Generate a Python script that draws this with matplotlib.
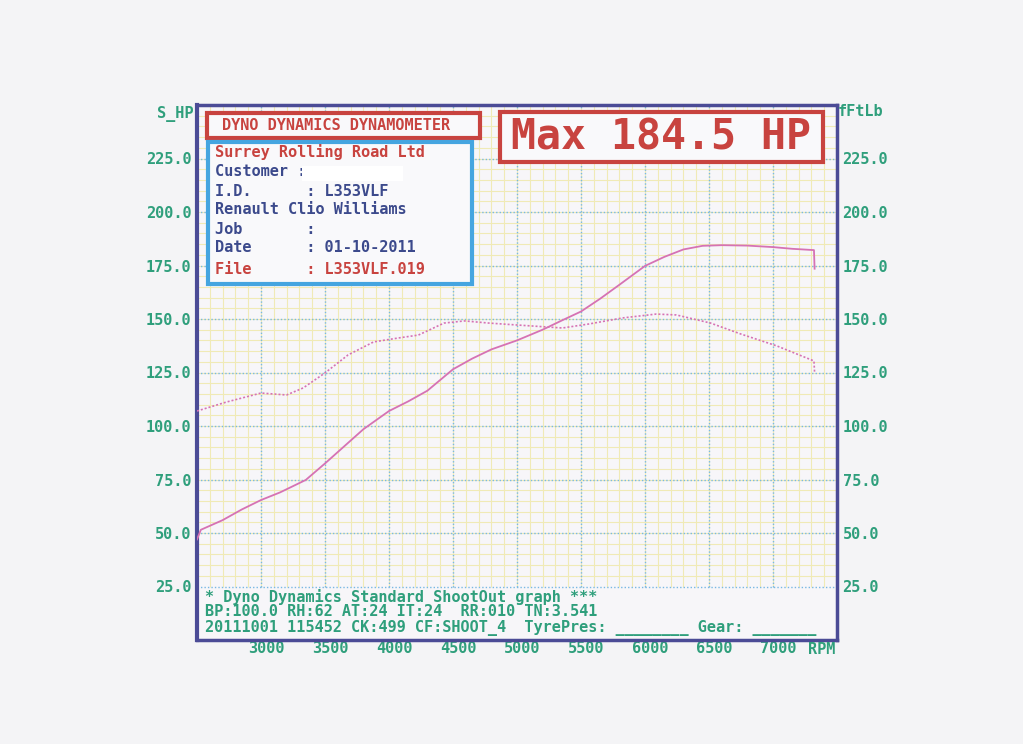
import matplotlib
matplotlib.use("Agg")
import matplotlib.pyplot as plt
from matplotlib.patches import Rectangle
from matplotlib.transforms import ScaledTranslation

# dyno run data
rpm_power = [2500, 2530, 2700, 2850, 3000, 3150, 3350, 3500, 3650, 3800, 4000, 4150,
             4300, 4500, 4650, 4800, 5000, 5200, 5350, 5500, 5650, 5800, 6000, 6150,
             6300, 6450, 6600, 6800, 7000, 7150, 7320, 7325]
hp = [47, 51.5, 56, 61, 65.4, 69, 74.8, 82.5, 90.5, 98.5, 107, 111.5,
      116.5, 126.5, 131.5, 135.8, 140, 145, 149.3, 153.5, 159.5, 166, 174.8, 179,
      182.5, 184.2, 184.5, 184.3, 183.6, 182.8, 182.2, 173.5]

rpm_torque = [2500, 2730, 3000, 3200, 3330, 3500, 3680, 3880, 4070, 4230, 4430, 4590,
              4780, 5000, 5355, 5565, 5825, 6087, 6245, 6512, 6748, 7031, 7320, 7325]
torque = [107, 111.2, 115.4, 114.5, 117.8, 124.8, 133.2, 139.3, 141.1, 142.5, 148.1, 149.1,
          148.1, 147.2, 145.8, 147.7, 150.5, 152.3, 151.9, 148.1, 143, 137.4, 130.4, 124.8]

x_ticks = [3000, 3500, 4000, 4500, 5000, 5500, 6000, 6500, 7000]
y_ticks = [25, 50, 75, 100, 125, 150, 175, 200, 225]

info_lines = [
    ("Surrey Rolling Road Ltd", "red"),
    ("Customer :", "navy"),
    ("I.D.      : L353VLF", "navy"),
    ("Renault Clio Williams", "navy"),
    ("Job       :", "navy"),
    ("Date      : 01-10-2011", "navy"),
    ("File      : L353VLF.019", "red"),
]
footer_lines = [
    "* Dyno Dynamics Standard ShootOut graph ***",
    "BP:100.0 RH:62 AT:24 IT:24  RR:010 TN:3.541",
    "20111001 115452 CK:499 CF:SHOOT_4  TyrePres: ________ Gear: _______",
]

RED = "#c8433f"
NAVY = "#3c4a8c"
GREEN = "#2f9f7c"
CURVE = "#d672b4"
FRAME = "#4b4b96"
BG = "#f4f4f6"

W, H = 1023, 744
plt.rcParams["font.family"] = "DejaVu Sans Mono"

fig = plt.figure(figsize=(W / 100, H / 100), dpi=100, facecolor=BG)
ax = fig.add_axes([197 / W, 1 - 640 / H, 640 / W, 535 / H])
ax.set_facecolor("#f7f6f9")
ax.set_xlim(2500, 7500)
ax.set_ylim(0, 250)


def fx(x):
    return x / W


def fy(y):
    return 1 - y / H


# grid (minor yellow, major blue dotted), only above the footer strip
for r in range(2600, 7500, 100):
    ax.vlines(r, 25, 250, color="#f0eab6", lw=0.8, zorder=1)
for v in range(30, 250, 5):
    ax.hlines(v, 2500, 7500, color="#f0eab6", lw=0.8, zorder=1)
for r in x_ticks:
    ax.vlines(r, 25, 250, color="#78b8e4", lw=1.0, ls=(0, (1, 1.5)), zorder=2)
for v in y_ticks:
    ax.hlines(v, 2500, 7500, color="#78b8e4", lw=1.0, ls=(0, (1, 1.5)), zorder=2)

ax.plot(rpm_power, hp, color=CURVE, lw=1.3, zorder=4)
ax.plot(rpm_torque, torque, color=CURVE, lw=1.2, ls=(0, (1.2, 1.2)), zorder=4)

ax.set_xticks(x_ticks)
ax.set_xticklabels([str(t) for t in x_ticks])
ax.set_yticks(y_ticks)
ax.set_yticklabels([f"{t:.1f}" for t in y_ticks])
ax.tick_params(length=0, colors=GREEN, labelsize=11,
               labelleft=True, labelright=True)
ax.tick_params(axis="x", pad=1)
ax.tick_params(axis="y", pad=4)
for lbl in ax.get_xticklabels() + ax.get_yticklabels():
    lbl.set_fontweight("bold")
for lbl in ax.get_xticklabels():
    lbl.set_transform(lbl.get_transform() + ScaledTranslation(0.05, 0, fig.dpi_scale_trans))

for s in ax.spines.values():
    s.set_color(FRAME)
    s.set_linewidth(2.5)
ax.spines["left"].set_linewidth(3)

# axis captions
fig.text(fx(193), fy(114), "S_HP", color=GREEN, fontsize=11, fontweight="bold",
         ha="right", va="center")
fig.text(fx(838), fy(112), "fFtLb", color=GREEN, fontsize=11, fontweight="bold",
         ha="left", va="center")
fig.text(fx(822), fy(649), "RPM", color=GREEN, fontsize=11, fontweight="bold",
         ha="center", va="center")

# header boxes
fig.add_artist(Rectangle((fx(207), fy(138)), (480 - 207) / W, 25 / H,
                         transform=fig.transFigure, fc="#f9f9fb", ec=RED, lw=3, zorder=5))
fig.text(fx(336), fy(126), "DYNO DYNAMICS DYNAMOMETER", color=RED, fontsize=11,
         fontweight="bold", ha="center", va="center", zorder=6)

fig.add_artist(Rectangle((fx(208), fy(284)), (472 - 208) / W, (284 - 142) / H,
                         transform=fig.transFigure, fc="#f9f9fb", ec="#45a5e0", lw=3, zorder=5))
rows_y = [152, 172, 191, 210, 229, 248, 269]
for (txt, c), y in zip(info_lines, rows_y):
    col = RED if c == "red" else NAVY
    fig.text(fx(215), fy(y), txt, color=col, fontsize=11,
             fontweight="bold", ha="left", va="center", zorder=6)
fig.add_artist(Rectangle((fx(302), fy(181)), 101 / W, 15 / H,
                         transform=fig.transFigure, fc="white", ec="none", zorder=7))

fig.add_artist(Rectangle((fx(500), fy(162)), 323 / W, 50 / H,
                         transform=fig.transFigure, fc="#f9f9fb", ec=RED, lw=3, zorder=5))
fig.text(fx(661), fy(137), "Max 184.5 HP", color=RED, fontsize=30,
         fontweight="bold", ha="center", va="center", zorder=6)

# footer strip inside the frame
for txt, y in zip(footer_lines, [597, 612, 628]):
    fig.text(fx(205), fy(y), txt, color=GREEN, fontsize=11, fontweight="bold",
             ha="left", va="center", zorder=6)

fig.savefig("out.png", dpi=100, facecolor=BG)
